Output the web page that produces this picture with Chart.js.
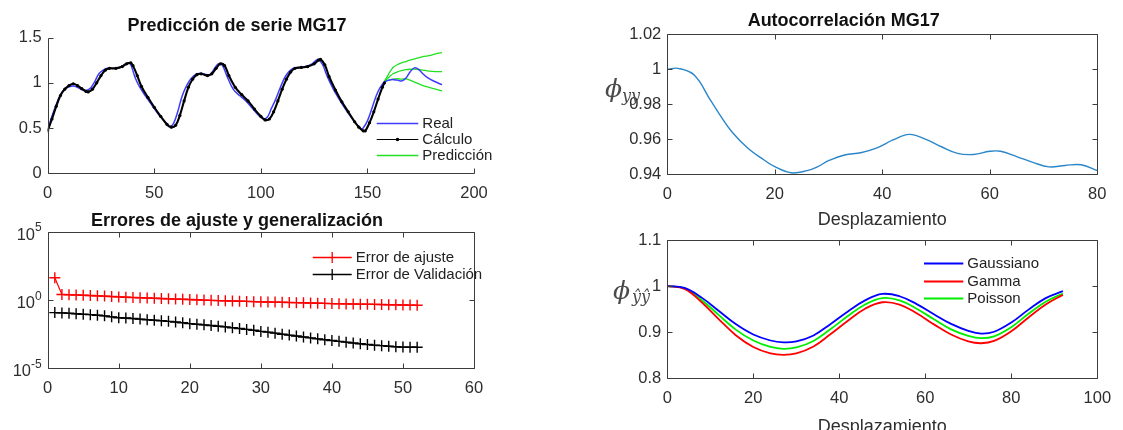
<!DOCTYPE html>
<html lang="es">
<head>
<meta charset="utf-8">
<title>Serie MG17</title>
<script src="https://cdn.jsdelivr.net/npm/chart.js@4.4.1/dist/chart.umd.min.js"></script>
<style>
  html, body { margin: 0; padding: 0; background: #fff; }
  #lienzo { position: relative; width: 1123px; height: 430px; overflow: hidden; }
  #lienzo canvas { position: absolute; }
</style>
</head>
<body>
<div id="lienzo">
  <canvas id="graficoSerie" width="520" height="210" style="left:0;top:0"></canvas>
  <canvas id="graficoErrores" width="520" height="210" style="left:0;top:205px"></canvas>
  <canvas id="graficoAutocorr" width="533" height="235" style="left:590px;top:0"></canvas>
  <canvas id="graficoModelos" width="533" height="214" style="left:590px;top:224px"></canvas>
</div>
<script>
// --- Predicción de la serie MG17 ---
const xReal = [0,2,4,6,8,10,12,14,16,18,20,22,24,26,28,31,34,36,38,39,41,43,46,49,52,55,57,59,61,63,65,67,70,73,76,78,80,82,84,87,90,93,96,99,101,103,105,107,109,111,113,115,118,121,124,126,127,129,131,134,137,140,143,145,147,148,150,152,154,156,158,161,164,166,168,170,172,174,176,178,181,185];
const yReal = [0.48,0.63,0.76,0.87,0.93,0.955,0.965,0.95,0.925,0.915,0.94,1.01,1.10,1.14,1.16,1.16,1.17,1.20,1.22,1.20,1.06,0.96,0.85,0.75,0.65,0.57,0.515,0.55,0.68,0.85,0.96,1.04,1.10,1.10,1.09,1.15,1.21,1.19,1.08,0.93,0.86,0.80,0.72,0.64,0.605,0.62,0.72,0.82,0.94,1.05,1.12,1.16,1.17,1.18,1.21,1.25,1.26,1.20,1.08,0.93,0.81,0.70,0.60,0.54,0.49,0.50,0.58,0.71,0.85,0.95,1.01,1.035,1.03,1.02,1.05,1.12,1.165,1.15,1.10,1.06,1.02,0.98];

const xCalculo = [0,2,4,6,8,10,12,14,16,18,19,21,23,25,27,29,32,35,37,39,40,42,44,47,50,53,56,58,60,62,64,66,68,70,72,75,77,79,81,83,85,88,91,94,97,100,102,104,106,108,110,112,114,116,119,122,125,127,128,130,132,135,138,141,144,146,148,149,151,153,155,157,158];
const yCalculo = [0.47,0.60,0.74,0.86,0.93,0.97,0.99,0.97,0.935,0.905,0.90,0.93,1.00,1.08,1.14,1.16,1.16,1.18,1.21,1.22,1.19,1.08,0.96,0.84,0.73,0.63,0.54,0.51,0.53,0.64,0.80,0.95,1.04,1.09,1.10,1.08,1.10,1.16,1.21,1.19,1.08,0.95,0.87,0.80,0.71,0.63,0.59,0.60,0.68,0.80,0.93,1.04,1.12,1.16,1.17,1.18,1.21,1.25,1.26,1.20,1.07,0.92,0.79,0.68,0.57,0.51,0.47,0.47,0.56,0.68,0.82,0.95,1.00];

const xPrediccion = [158,160,162,164,166,168,170,173,176,179,182,185];
const yPrediccionAlta = [1.02,1.10,1.17,1.20,1.22,1.235,1.25,1.27,1.29,1.30,1.32,1.335];
const yPrediccionMedia = [1.02,1.06,1.10,1.12,1.135,1.145,1.15,1.15,1.14,1.13,1.125,1.125];
const yPrediccionBaja = [1.02,1.03,1.04,1.045,1.04,1.045,1.03,1.00,0.97,0.95,0.93,0.91];

// --- Errores de ajuste y de validación por iteración ---
const iteraciones = [1,2,3,4,5,6,7,8,9,10,11,12,13,14,15,16,17,18,19,20,21,22,23,24,25,26,27,28,29,30,31,32,33,34,35,36,37,38,39,40,41,42,43,44,45,46,47,48,49,50,51,52];
const errorAjuste = [44.7,2.63,2.51,2.40,2.29,2.19,2.09,2.00,1.86,1.74,1.66,1.58,1.51,1.45,1.38,1.32,1.26,1.20,1.16,1.12,1.07,1.02,0.977,0.933,0.902,0.871,0.841,0.813,0.785,0.759,0.741,0.724,0.700,0.676,0.661,0.646,0.624,0.603,0.582,0.562,0.550,0.537,0.525,0.513,0.501,0.490,0.479,0.468,0.457,0.447,0.437,0.427];
const errorValidacion = [0.123,0.117,0.110,0.100,0.093,0.087,0.079,0.071,0.060,0.052,0.049,0.045,0.041,0.037,0.034,0.031,0.028,0.025,0.022,0.019,0.017,0.0155,0.0138,0.0123,0.011,0.0095,0.0083,0.0072,0.0062,0.0051,0.0045,0.0038,0.0032,0.00275,0.00234,0.0020,0.0017,0.00145,0.00126,0.0011,0.00095,0.00083,0.00072,0.00063,0.00056,0.0005,0.00046,0.00042,0.00038,0.00036,0.000355,0.000355];

// --- Autocorrelación de la serie ---
const desplazamientoSerie = [0,2,5,8,10,12,15,18,20,23,26,28,30,33,36,39,42,45,48,51,54,57,60,62,65,68,71,74,77,80];
const autocorrSerie = [1.000,1.0005,0.9967,0.9824,0.9728,0.9642,0.9547,0.948,0.9442,0.9407,0.9419,0.9442,0.9476,0.9509,0.9522,0.955,0.9595,0.9627,0.960,0.9556,0.9518,0.9512,0.953,0.953,0.950,0.9467,0.9441,0.9449,0.9453,0.9419];

// --- Autocorrelación de los modelos ---
const desplazamientoModelo = [0,4,8,12,16,20,24,27,30,34,38,42,46,50,54,58,62,66,70,73,76,80,84,88,92];
const autocorrGaussiano = [1.000,0.996,0.975,0.946,0.917,0.895,0.882,0.878,0.880,0.893,0.918,0.945,0.969,0.983,0.978,0.961,0.939,0.918,0.903,0.897,0.901,0.921,0.949,0.974,0.989];
const autocorrGamma = [1.000,0.994,0.965,0.928,0.893,0.868,0.854,0.851,0.854,0.869,0.896,0.925,0.951,0.965,0.960,0.941,0.917,0.895,0.880,0.876,0.881,0.902,0.932,0.960,0.981];
const autocorrPoisson = [1.000,0.995,0.970,0.937,0.905,0.882,0.868,0.864,0.867,0.881,0.907,0.935,0.960,0.974,0.969,0.951,0.928,0.906,0.892,0.887,0.891,0.911,0.940,0.966,0.984];

// --- Marcas de los ejes ---
const ticksSerieX = [0, 50, 100, 150, 200];
const etiquetasSerieX = ['0', '50', '100', '150', '200'];
const ticksSerieY = [0, 0.5, 1, 1.5];
const etiquetasSerieY = ['0', '0.5', '1', '1.5'];
const ticksErroresX = [0, 10, 20, 30, 40, 50, 60];
const etiquetasErroresX = ['0', '10', '20', '30', '40', '50', '60'];
const ticksErroresY = [1e-5, 1, 1e5];
const baseErroresY = '10';
const exponentesErroresY = ['-5', '0', '5'];
const ticksAutocorrX = [0, 20, 40, 60, 80];
const etiquetasAutocorrX = ['0', '20', '40', '60', '80'];
const ticksAutocorrY = [0.94, 0.96, 0.98, 1, 1.02];
const etiquetasAutocorrY = ['0.94', '0.96', '0.98', '1', '1.02'];
const ticksModelosX = [0, 20, 40, 60, 80, 100];
const etiquetasModelosX = ['0', '20', '40', '60', '80', '100'];
const ticksModelosY = [0.8, 0.9, 1, 1.1];
const etiquetasModelosY = ['0.8', '0.9', '1', '1.1'];

const FUENTE = '"Liberation Sans", Arial, sans-serif';
const GRIS_TEXTO = '#2e2e2e';
const GRIS_EJE = '#3c3c3c';
const AZUL_REAL = '#3c3cff';
const VERDE_PRED = '#22e022';

Chart.defaults.font.family = FUENTE;
Chart.defaults.color = GRIS_TEXTO;
Chart.defaults.animation = false;

const pares = (xs, ys) => xs.map((x, i) => ({ x, y: ys[i] }));

// eje horizontal con marcas fijas y alto fijo para cuadrar el área del gráfico
function ejeX(min, max, valores, etiquetas, alto, titulo) {
  return {
    type: 'linear', min, max,
    grid: { display: false, drawTicks: false },
    border: { display: false },
    afterBuildTicks: (s) => { s.ticks = valores.map((v) => ({ value: v })); },
    afterFit: (s) => { s.height = alto; },
    ticks: {
      autoSkip: false, maxRotation: 0, padding: 10.5,
      font: { size: 16.5 }, color: GRIS_TEXTO,
      callback: (v, i) => etiquetas[i]
    },
    title: titulo
      ? { display: true, text: titulo, font: { size: 18 }, color: GRIS_TEXTO, padding: 0 }
      : { display: false }
  };
}

function ejeY(tipo, min, max, valores, etiquetas, ancho) {
  return {
    type: tipo, min, max,
    grid: { display: false, drawTicks: false },
    border: { display: false },
    afterBuildTicks: (s) => { s.ticks = valores.map((v) => ({ value: v })); },
    afterFit: (s) => { s.width = ancho; },
    ticks: {
      autoSkip: false, padding: 6,
      font: { size: 16.5 }, color: GRIS_TEXTO,
      callback: (v, i) => (etiquetas ? etiquetas[i] : '')
    }
  };
}

function titulo(texto, arriba, abajo) {
  return {
    display: true, text: texto, color: '#111',
    font: { size: 18, weight: 'bold' },
    padding: { top: arriba, bottom: abajo }
  };
}

// ejes al estilo MATLAB: línea de ejes (o caja) con marcas hacia dentro
function marcoEjes(caja) {
  return {
    id: 'marcoEjes',
    afterDatasetsDraw(chart) {
      const { ctx, chartArea: a, scales } = chart;
      const L = 5;
      const r = (v) => Math.round(v) + 0.5;
      const izq = r(a.left), der = r(a.right), arr = r(a.top), aba = r(a.bottom);
      ctx.save();
      ctx.strokeStyle = GRIS_EJE;
      ctx.lineWidth = 1;
      ctx.beginPath();
      ctx.moveTo(izq, arr);
      ctx.lineTo(izq, aba);
      ctx.lineTo(der, aba);
      if (caja) { ctx.lineTo(der, arr); ctx.closePath(); }
      scales.x.ticks.forEach((t) => {
        const px = r(scales.x.getPixelForValue(t.value));
        ctx.moveTo(px, aba); ctx.lineTo(px, aba - L);
        if (caja) { ctx.moveTo(px, arr); ctx.lineTo(px, arr + L); }
      });
      scales.y.ticks.forEach((t) => {
        const py = r(scales.y.getPixelForValue(t.value));
        ctx.moveTo(izq, py); ctx.lineTo(izq + L, py);
        if (caja) { ctx.moveTo(der, py); ctx.lineTo(der - L, py); }
      });
      ctx.stroke();
      ctx.restore();
    }
  };
}

// etiquetas de potencias de diez (10 con exponente volado) en el eje y logarítmico
function etiquetasPotencia(base, exponentes) {
  return {
    id: 'etiquetasPotencia',
    afterDraw(chart) {
      const { ctx, chartArea: a, scales } = chart;
      ctx.save();
      ctx.fillStyle = GRIS_TEXTO;
      ctx.textBaseline = 'middle';
      scales.y.ticks.forEach((t, i) => {
        const py = scales.y.getPixelForValue(t.value);
        const exp = exponentes[i];
        ctx.font = '12px ' + FUENTE;
        const anchoExp = ctx.measureText(exp).width;
        const xExp = a.left - 6 - anchoExp;
        ctx.textAlign = 'left';
        ctx.fillText(exp, xExp, py - 4);
        ctx.font = '16.5px ' + FUENTE;
        ctx.textAlign = 'right';
        ctx.fillText(base, xExp, py + 3.5);
      });
      ctx.restore();
    }
  };
}

// leyenda sin recuadro dentro del área del gráfico
function leyenda(items, dx, dy, paso, largo) {
  return {
    id: 'leyenda',
    afterDraw(chart) {
      const { ctx, chartArea: a } = chart;
      ctx.save();
      ctx.font = '15px ' + FUENTE;
      ctx.textBaseline = 'middle';
      items.forEach((it, i) => {
        const y = Math.round(a.top + dy + i * paso) + 0.5;
        const x0 = a.left + dx, x1 = x0 + largo, xm = (x0 + x1) / 2;
        ctx.strokeStyle = it.color;
        ctx.lineWidth = it.ancho;
        ctx.beginPath();
        ctx.moveTo(x0, y); ctx.lineTo(x1, y);
        if (it.marcador === 'cruz') {
          ctx.moveTo(xm - 5.5, y); ctx.lineTo(xm + 5.5, y);
          ctx.moveTo(xm, y - 5.5); ctx.lineTo(xm, y + 5.5);
        }
        ctx.stroke();
        if (it.marcador === 'punto') {
          ctx.fillStyle = it.color;
          ctx.beginPath(); ctx.arc(xm, y, 1.8, 0, Math.PI * 2); ctx.fill();
        }
        ctx.fillStyle = '#222';
        ctx.fillText(it.texto, x1 + 4, y);
      });
      ctx.restore();
    }
  };
}

// rótulo del eje vertical: phi con subíndice
function rotuloPhi(sub, dx, dy, dxSub, dySub) {
  return {
    id: 'rotuloPhi',
    afterDraw(chart) {
      const { ctx, chartArea: a } = chart;
      ctx.save();
      ctx.fillStyle = '#4a4a4a';
      ctx.textBaseline = 'middle';
      ctx.font = 'italic 25px "DejaVu Serif", serif';
      ctx.fillText('ϕ', a.left + dx, a.top + dy);
      ctx.font = 'italic 16px "DejaVu Serif", serif';
      ctx.fillText(sub, a.left + dxSub, a.top + dySub);
      ctx.restore();
    }
  };
}

const base = {
  responsive: false,
  maintainAspectRatio: false,
  events: []
};

// 1) Predicción de serie MG17
new Chart(document.getElementById('graficoSerie'), {
  type: 'line',
  data: {
    datasets: [
      { label: 'Cálculo', data: pares(xCalculo, yCalculo), borderColor: '#000', borderWidth: 2.1,
        pointRadius: 1.6, pointBackgroundColor: '#000', pointBorderWidth: 0, tension: 0.35, order: 0 },
      { label: 'Real', data: pares(xReal, yReal), borderColor: AZUL_REAL, borderWidth: 1.5,
        pointRadius: 0, tension: 0.35, order: 1 },
      { label: 'Predicción', data: pares(xPrediccion, yPrediccionAlta), borderColor: VERDE_PRED, borderWidth: 1.3,
        pointRadius: 0, tension: 0.25, order: 2 },
      { label: 'Predicción', data: pares(xPrediccion, yPrediccionMedia), borderColor: VERDE_PRED, borderWidth: 1.3,
        pointRadius: 0, tension: 0.25, order: 2 },
      { label: 'Predicción', data: pares(xPrediccion, yPrediccionBaja), borderColor: VERDE_PRED, borderWidth: 1.3,
        pointRadius: 0, tension: 0.25, order: 2 }
    ]
  },
  options: {
    ...base,
    layout: { padding: { left: 0, right: 46, top: 0, bottom: 0 } },
    scales: {
      x: ejeX(0, 200, ticksSerieX, etiquetasSerieX, 36.7),
      y: ejeY('linear', 0, 1.5, ticksSerieY, etiquetasSerieY, 47.7)
    },
    plugins: {
      legend: { display: false },
      tooltip: { enabled: false },
      title: titulo('Predicción de serie MG17', 15, 1)
    }
  },
  plugins: [
    marcoEjes(false),
    leyenda([
      { texto: 'Real', color: AZUL_REAL, ancho: 1.5 },
      { texto: 'Cálculo', color: '#000', ancho: 1.2, marcador: 'punto' },
      { texto: 'Predicción', color: VERDE_PRED, ancho: 1.3 }
    ], 329, 85.6, 16, 41.6)
  ]
});

// 2) Errores de ajuste y generalización (escala logarítmica)
new Chart(document.getElementById('graficoErrores'), {
  type: 'line',
  data: {
    datasets: [
      { label: 'Error de ajuste', data: pares(iteraciones, errorAjuste), borderColor: '#ff0000', borderWidth: 1.2,
        pointStyle: 'cross', pointRadius: 5.5, pointBorderColor: '#ff0000', pointBorderWidth: 1.4, tension: 0 },
      { label: 'Error de Validación', data: pares(iteraciones, errorValidacion), borderColor: '#000', borderWidth: 1.2,
        pointStyle: 'cross', pointRadius: 5.5, pointBorderColor: '#000', pointBorderWidth: 1.4, tension: 0 }
    ]
  },
  options: {
    ...base,
    layout: { padding: { left: 0, right: 46, top: 0, bottom: 0 } },
    scales: {
      x: ejeX(0, 60, ticksErroresX, etiquetasErroresX, 46.7),
      y: ejeY('logarithmic', 1e-5, 1e5, ticksErroresY, null, 47.7)
    },
    plugins: {
      legend: { display: false },
      tooltip: { enabled: false },
      title: titulo('Errores de ajuste y generalización', 5, 0.5)
    }
  },
  plugins: [
    marcoEjes(true),
    etiquetasPotencia(baseErroresY, exponentesErroresY),
    leyenda([
      { texto: 'Error de ajuste', color: '#ff0000', ancho: 1.3, marcador: 'cruz' },
      { texto: 'Error de Validación', color: '#000', ancho: 1.3, marcador: 'cruz' }
    ], 265, 24.4, 17.3, 39)
  ]
});

// 3) Autocorrelación MG17
new Chart(document.getElementById('graficoAutocorr'), {
  type: 'line',
  data: {
    datasets: [
      { label: 'Autocorrelación', data: pares(desplazamientoSerie, autocorrSerie), borderColor: '#2a86c8',
        borderWidth: 1.4, pointRadius: 0, tension: 0.4 }
    ]
  },
  options: {
    ...base,
    layout: { padding: { left: 0, right: 25.7, top: 0, bottom: 4.2 } },
    scales: {
      x: ejeX(0, 80, ticksAutocorrX, etiquetasAutocorrX, 56.8, 'Desplazamiento'),
      y: ejeY('linear', 0.94, 1.02, ticksAutocorrY, etiquetasAutocorrY, 77.3)
    },
    plugins: {
      legend: { display: false },
      tooltip: { enabled: false },
      title: titulo('Autocorrelación MG17', 10.5, 2.2)
    }
  },
  plugins: [marcoEjes(true), rotuloPhi('yy', -62.3, 55.7, -45.3, 62.7)]
});

// 4) Autocorrelación de los modelos Gaussiano, Gamma y Poisson
new Chart(document.getElementById('graficoModelos'), {
  type: 'line',
  data: {
    datasets: [
      { label: 'Gaussiano', data: pares(desplazamientoModelo, autocorrGaussiano), borderColor: '#0000ff',
        borderWidth: 1.8, pointRadius: 0, tension: 0.4 },
      { label: 'Gamma', data: pares(desplazamientoModelo, autocorrGamma), borderColor: '#ff0000',
        borderWidth: 1.8, pointRadius: 0, tension: 0.4 },
      { label: 'Poisson', data: pares(desplazamientoModelo, autocorrPoisson), borderColor: '#00ee00',
        borderWidth: 1.8, pointRadius: 0, tension: 0.4 }
    ]
  },
  options: {
    ...base,
    layout: { padding: { left: 0, right: 25.7, top: 16, bottom: 0.5 } },
    scales: {
      x: ejeX(0, 100, ticksModelosX, etiquetasModelosX, 59.2, 'Desplazamiento'),
      y: ejeY('linear', 0.8, 1.1, ticksModelosY, etiquetasModelosY, 77.3)
    },
    plugins: {
      legend: { display: false },
      tooltip: { enabled: false },
      title: { display: false }
    }
  },
  plugins: [
    marcoEjes(true),
    rotuloPhi('ŷŷ', -54.3, 52, -35.3, 58),
    leyenda([
      { texto: 'Gaussiano', color: '#0000ff', ancho: 1.8 },
      { texto: 'Gamma', color: '#ff0000', ancho: 1.8 },
      { texto: 'Poisson', color: '#00ee00', ancho: 1.8 }
    ], 256.7, 22.7, 17.8, 39.3)
  ]
});
</script>
</body>
</html>
